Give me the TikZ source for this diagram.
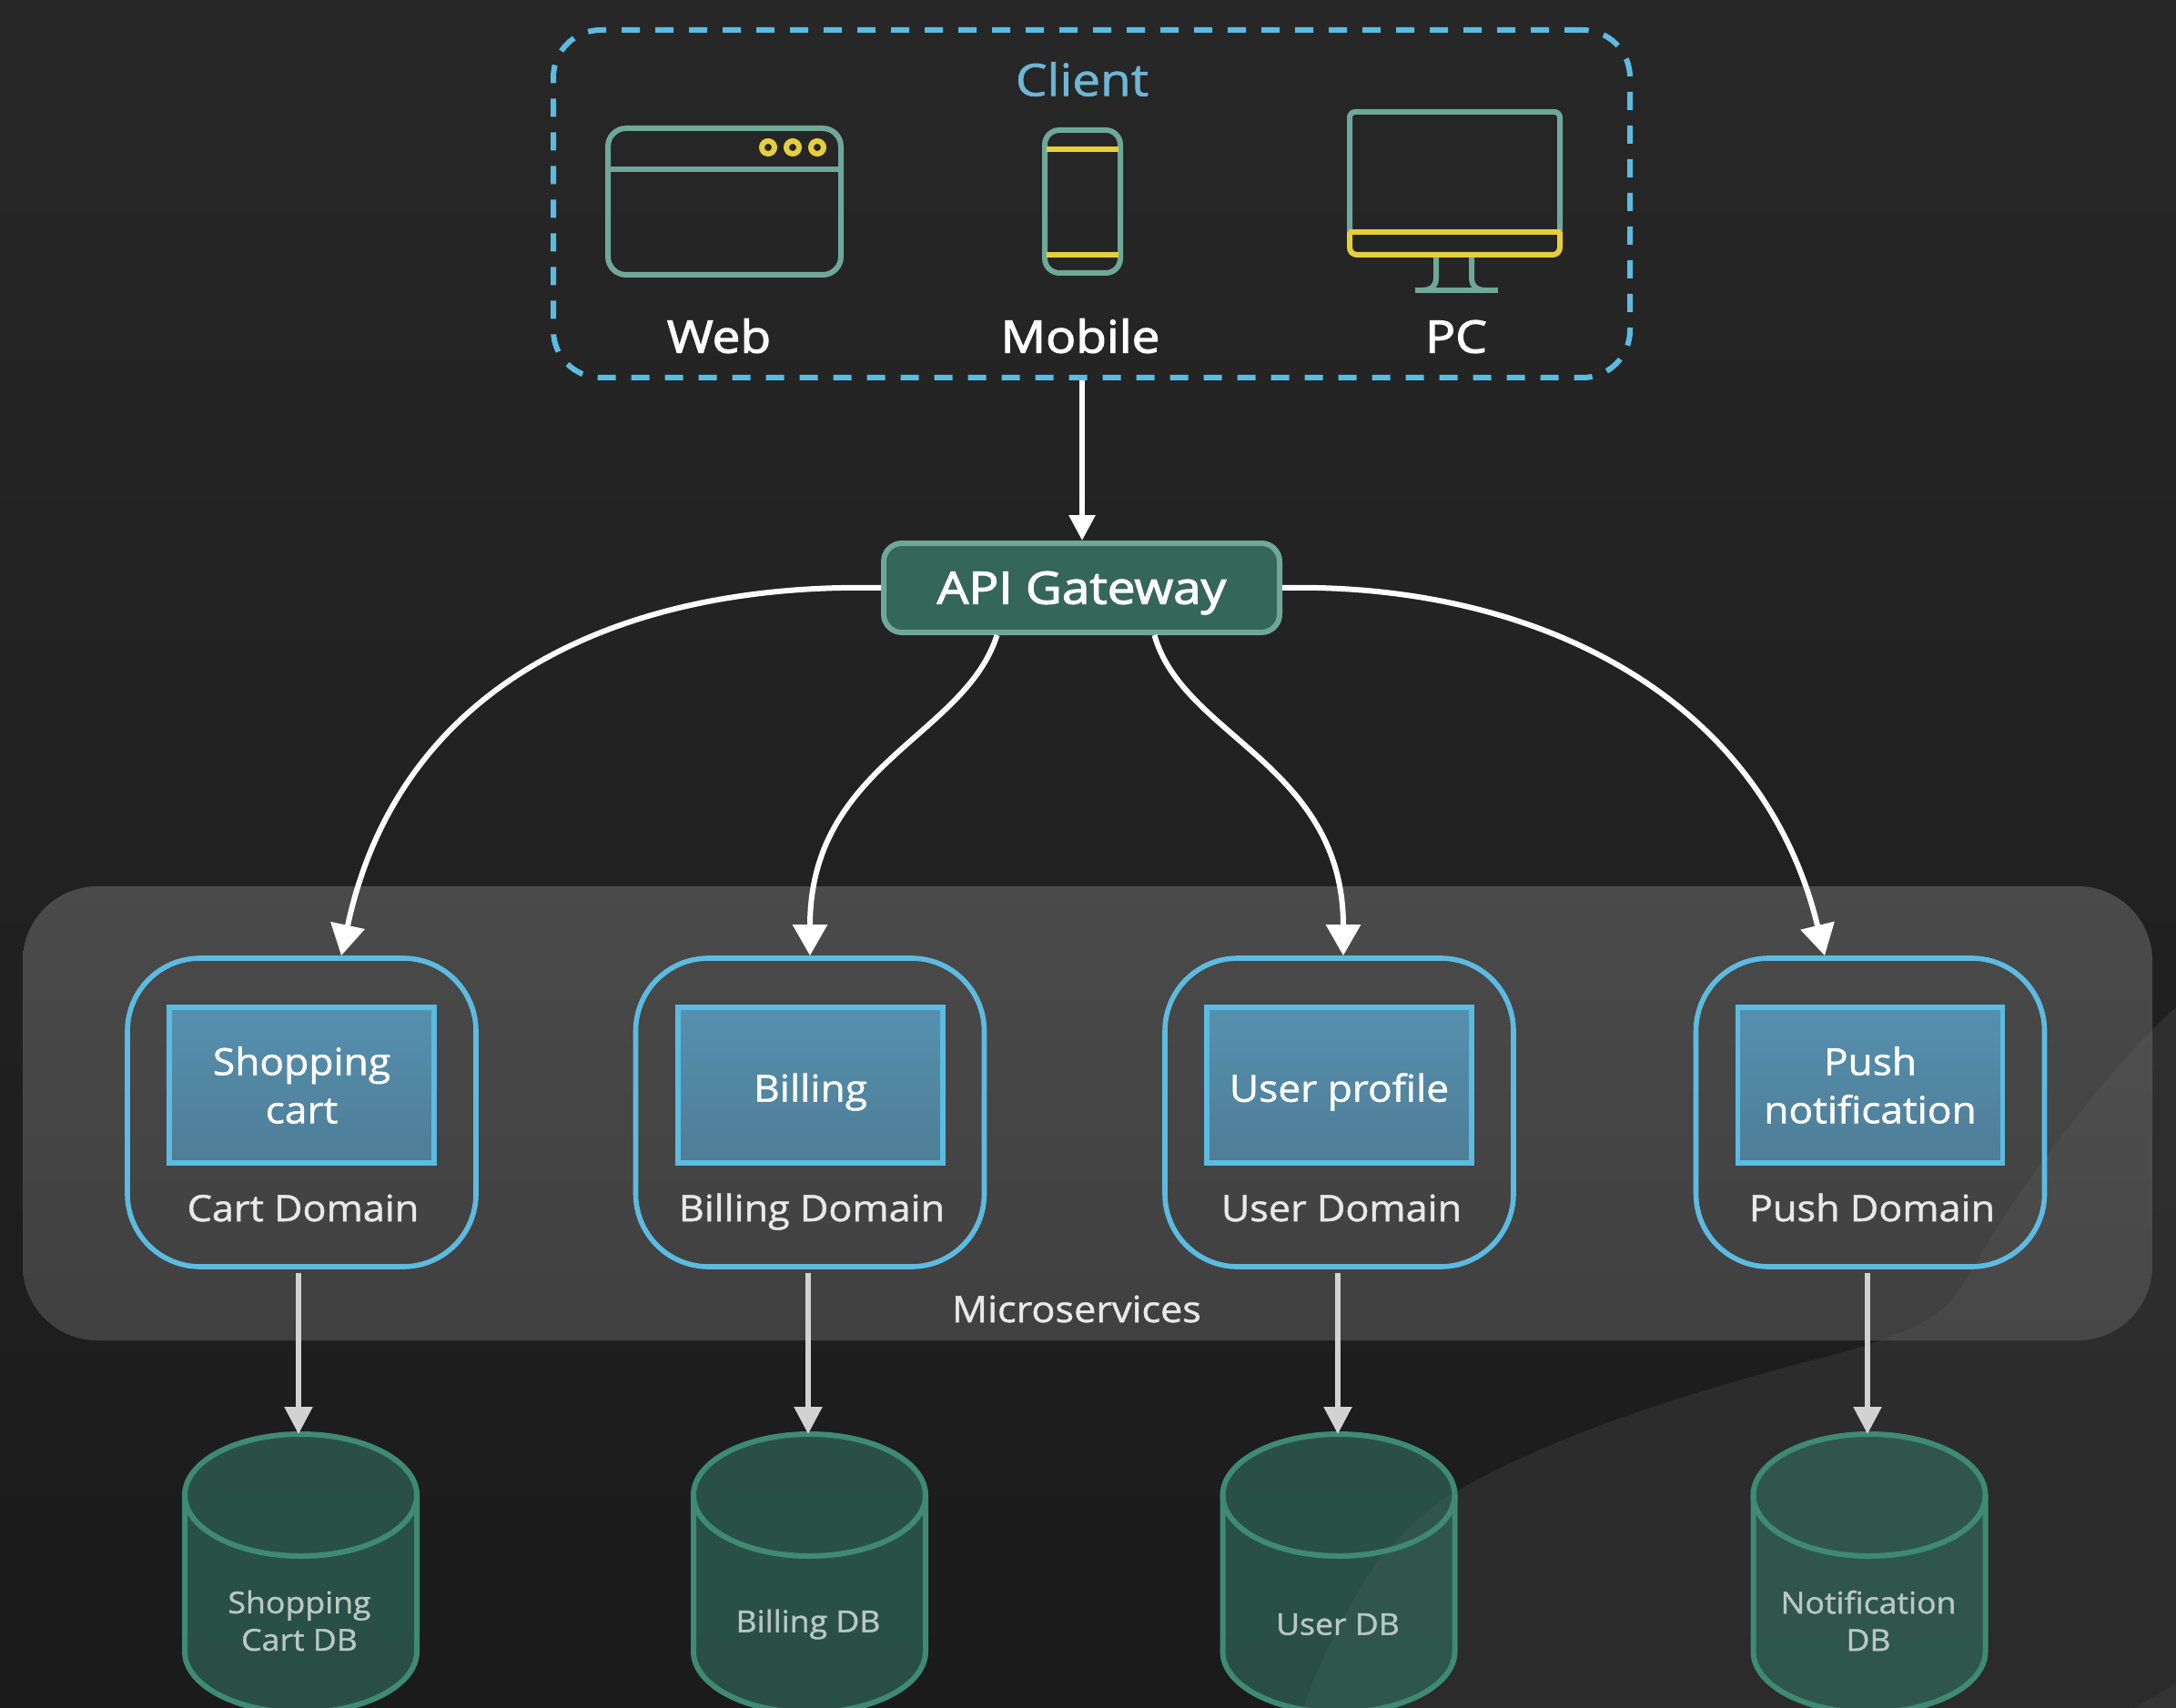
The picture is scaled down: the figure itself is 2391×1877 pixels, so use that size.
\documentclass[tikz,border=0pt]{standalone}
\usepackage{fontspec}
\setmainfont{Open Sans}
\newfontfamily\headfont[FakeStretch=1.12,FakeBold=2.4]{Open Sans}
\newfontfamily\bodyfont[FakeStretch=1.08,FakeBold=1.2]{Open Sans}
\newfontfamily\titlefont[FakeStretch=1.12,FakeBold=1.4]{Open Sans}
\usetikzlibrary{arrows.meta,calc}
\definecolor{bgtop}{HTML}{272727}
\definecolor{bgbot}{HTML}{1B1B1B}
\definecolor{panelTop}{HTML}{4A4A4A}
\definecolor{panelBot}{HTML}{404040}
\definecolor{sky}{HTML}{5CBBE0}
\definecolor{skytext}{HTML}{6DB6D6}
\definecolor{mint}{HTML}{6FA898}
\definecolor{gwfill}{HTML}{35665A}
\definecolor{ylw}{HTML}{E6CF3C}
\definecolor{svcTop}{HTML}{5690AE}
\definecolor{svcBot}{HTML}{4E7D97}
\definecolor{dbc}{HTML}{337362}
\definecolor{dbline}{HTML}{3E8A72}
\definecolor{dbtext}{HTML}{B8C8C2}
\definecolor{greyarrow}{HTML}{D2D2D2}
\definecolor{domtext}{HTML}{E8E8E8}
\tikzset{
  iconline/.style={draw=mint,line width=3pt},
  iconyellow/.style={draw=ylw,line width=3pt},
  clientbox/.style={draw=sky,line width=3pt,dash pattern=on 10pt off 8.5pt,rounded corners=26pt,minimum width=591.5pt,minimum height=191pt},
  gateway/.style={draw=mint,line width=3pt,fill=gwfill,rounded corners=10pt,minimum width=217.5pt,minimum height=49pt,text=white,text height=17.5pt,text depth=0pt,font=\headfont\fontsize{24.5}{28}\selectfont},
  domainbox/.style={draw=sky,line width=2.8pt,rounded corners=40pt,minimum width=191.5pt,minimum height=169.5pt},
  svcbox/.style={draw=sky,line width=2.8pt,top color=svcTop,bottom color=svcBot,minimum width=145.5pt,minimum height=85.5pt,text=white,align=center,font=\bodyfont\fontsize{20.5}{26.5}\selectfont},
  svcsingle/.style={text height=18.2pt,text depth=0pt},
  domlabel/.style={text=domtext,text height=15pt,text depth=0pt,font=\bodyfont\fontsize{20}{24}\selectfont},
  dbanchor/.style={minimum width=127.5pt,minimum height=153pt,inner sep=0pt,outer sep=0pt},
  dblabel/.style={text=dbtext,align=center,font=\bodyfont\fontsize{16.5}{20.5}\selectfont},
  clientlabel/.style={text=white,text height=17.5pt,text depth=0pt,font=\headfont\fontsize{24.5}{28}\selectfont},
  whitearrow/.style={draw=white,line width=3pt,-{Triangle[length=17pt,width=18.5pt,fill=white]}},
  toparrow/.style={draw=white,line width=3pt,-{Triangle[length=14pt,width=14pt,fill=white]}},
  greyline/.style={draw=greyarrow,line width=2.8pt,-{Triangle[length=15pt,width=15pt,fill=greyarrow]}}
}
\newcommand{\swooshpath}{(2391,1107) .. controls (2320,1170) and (2230,1290) .. (2183,1367)
  .. controls (2165,1400) and (2150,1425) .. (2133,1440)
  .. controls (2100,1465) and (2040,1483) .. (1983,1497)
  .. controls (1840,1535) and (1700,1580) .. (1593,1643)
  .. controls (1560,1665) and (1535,1690) .. (1513,1717)
  .. controls (1480,1765) and (1450,1825) .. (1432,1877)
  -- (2391,1877) -- cycle}
\newcommand{\dbdraw}[1]{%
  \path[fill=dbc,fill opacity=.6,draw=dbline,line width=3pt]
    (#1-127.5,1643) arc[start angle=180,end angle=360,x radius=127.5,y radius=67]
    -- (#1+127.5,1815) arc[start angle=0,end angle=180,x radius=127.5,y radius=67] -- cycle;
  \draw[dbline,line width=3pt] (#1-127.5,1643) arc[start angle=180,end angle=0,x radius=127.5,y radius=67];
}
\begin{document}
\begin{tikzpicture}[x=0.5pt,y=-0.5pt]
\useasboundingbox (0,0) rectangle (2391,1877);
\clip (0,0) rectangle (2391,1877);
% background
\shade[top color=bgtop,bottom color=bgbot,draw=none] (0,0) rectangle (2391,1877);
\fill[white,fill opacity=.07] \swooshpath;
\fill[white,fill opacity=.04] (2345,1877) -- (2391,1850) -- (2391,1877) -- cycle;
% microservices panel
\shade[top color=panelTop,bottom color=panelBot,rounded corners=41pt,draw=none] (25,974) rectangle (2365,1473);
\begin{scope}
\clip[rounded corners=41pt] (25,974) rectangle (2365,1473);
\fill[white,fill opacity=.04] \swooshpath;
\end{scope}

% client
\node[clientbox] (client) at (1199.5,224) {};
\node[text=skytext,font=\titlefont\fontsize{24.5}{28}\selectfont] (clienttitle) at (1189,87) {Client};
% web icon
\draw[iconline,rounded corners=10pt] (668,141) rectangle (924,302);
\draw[iconline] (668,186) -- (924,186);
\foreach \n/\x in {d1/844,d2/871,d3/898}{\draw[iconyellow] (\x,162) circle[radius=7];}
\node[clientlabel] (web) at (790,370) {Web};
% mobile icon
\draw[iconline,rounded corners=8pt] (1148,143) rectangle (1231,300);
\draw[iconyellow] (1150,164) -- (1229,164);
\draw[iconyellow] (1150,280) -- (1229,280);
\node[clientlabel] (mobile) at (1187,370) {Mobile};
% pc icon
\draw[iconline,rounded corners=3pt] (1483,255) -- (1483,123) -- (1714,123) -- (1714,255);
\draw[iconline] (1578,282) -- (1578,305) .. controls (1578,315) and (1572,319) .. (1562,319);
\draw[iconline] (1617,282) -- (1617,305) .. controls (1617,315) and (1623,319) .. (1633,319);
\draw[iconline] (1555,319) -- (1646,319);
\draw[iconyellow,rounded corners=4pt] (1483,255) -- (1483,280) -- (1714,280) -- (1714,255);
\draw[iconyellow] (1482,255) -- (1715,255);
\node[clientlabel] (pc) at (1600,370) {PC};

% gateway
\node[gateway] (gw) at (1188.5,646) {API Gateway};

% domains
\node[domainbox] (cartdom) at (331.5,1222.5) {};
\node[domainbox] (billdom) at (890,1222.5) {};
\node[domainbox] (userdom) at (1471.5,1222.5) {};
\node[domainbox] (pushdom) at (2055,1222.5) {};
\node[svcbox] (cartsvc) at (331.5,1192.5) {Shopping\\cart};
\node[svcbox,svcsingle] (billsvc) at (890.5,1192.5) {Billing};
\node[svcbox,svcsingle] (usersvc) at (1471.5,1192.5) {User profile};
\node[svcbox] (pushsvc) at (2055,1192.5) {Push\\notification};
\node[domlabel] (cartlab) at (333,1327) {Cart Domain};
\node[domlabel] (billlab) at (892,1327) {Billing Domain};
\node[domlabel] (userlab) at (1474,1327) {User Domain};
\node[domlabel] (pushlab) at (2057,1327) {Push Domain};
\node[domlabel] (micro) at (1183,1438) {Microservices};

% databases
\dbdraw{330.5}
\dbdraw{889.5}
\dbdraw{1471}
\dbdraw{2054}
\node[dbanchor] (cartdb) at (330.5,1729) {};
\node[dbanchor] (billdb) at (889.5,1729) {};
\node[dbanchor] (userdb) at (1471,1729) {};
\node[dbanchor] (pushdb) at (2054,1729) {};
\node[dblabel] (cartdbl) at (329,1781) {Shopping\\Cart DB};
\node[dblabel] (billdbl) at (888,1785) {Billing DB};
\node[dblabel] (userdbl) at (1470,1785) {User DB};
\node[dblabel] (pushdbl) at (2053,1781) {Notification\\DB};

% connectors
\draw[toparrow] ([xshift=-5.25pt]client.south) -- ([xshift=.25pt]gw.north);
\draw[whitearrow] (gw.west) .. controls (690,640) and (440,745) .. ([xshift=21.75pt]cartdom.north);
\draw[whitearrow] ([xshift=-46.5pt]gw.south) .. controls (1060,810) and (890,840) .. ([xshift=0pt]billdom.north);
\draw[whitearrow] ([xshift=40pt]gw.south) .. controls (1300,810) and (1476,840) .. ([xshift=2.25pt]userdom.north);
\draw[whitearrow] (gw.east) .. controls (1680,640) and (1935,760) .. ([xshift=-25pt]pushdom.north);
\draw[greyline] ([xshift=-1.75pt,yshift=-2pt]cartdom.south) -- ([xshift=-1.25pt]cartdb.north);
\draw[greyline] ([xshift=-1pt,yshift=-2pt]billdom.south) -- ([xshift=-.75pt]billdb.north);
\draw[greyline] ([xshift=-.75pt,yshift=-2pt]userdom.south) -- ([xshift=-.5pt]userdb.north);
\draw[greyline] ([xshift=-1.5pt,yshift=-2pt]pushdom.south) -- ([xshift=-1pt]pushdb.north);
\end{tikzpicture}
\end{document}
